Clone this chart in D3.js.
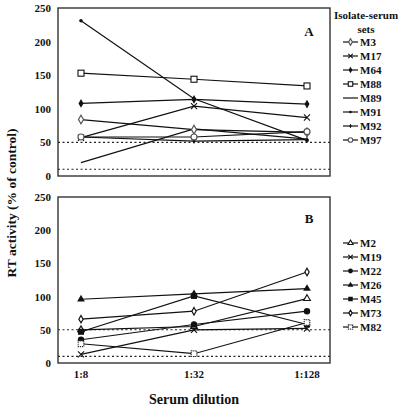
<!DOCTYPE html>
<html><head><meta charset="utf-8">
<script src="https://cdn.jsdelivr.net/npm/d3@7"></script>
<style>body{margin:0;background:#fff}text{font-family:"Liberation Serif","Times New Roman",serif;font-weight:bold;fill:#111}</style>
</head><body><svg id="c" width="400" height="409"></svg>
<script>
const dilutions = ["1:8", "1:32", "1:128"];
const yTicks = [0, 50, 100, 150, 200, 250];
const refLines = [50, 10];

const seriesA = ["M3", "M17", "M64", "M88", "M89", "M91", "M92", "M97"];
const markersA = ["diamondOpen", "cross", "diamondFilled", "squareOpen", "none", "dot", "plus", "circleOpen"];
const M3 = [84, 69, 65];
const M17 = [57, 104, 87];
const M64 = [108, 114, 107];
const M88 = [153, 144, 134];
const M89 = [20, 70, 55];
const M91 = [231, 115, 53];
const M92 = [58, 52, 54];
const M97 = [58, 58, 66];
const valuesA = [M3, M17, M64, M88, M89, M91, M92, M97];

const seriesB = ["M2", "M19", "M22", "M26", "M45", "M73", "M82"];
const markersB = ["triangleOpen", "cross", "circleFilled", "triangleFilled", "squareFilled", "diamondSmall", "squareDotted"];
const M2 = [50, 55, 97];
const M19 = [13, 50, 52];
const M22 = [35, 58, 78];
const M26 = [96, 104, 112];
const M45 = [47, 101, 58];
const M73 = [66, 78, 137];
const M82 = [29, 14, 61];
const valuesB = [M2, M19, M22, M26, M45, M73, M82];

const svg = d3.select("#c");
const x = d3.scalePoint().domain(dilutions).range([81, 307]);
const left = 58, right = 330;

function marker(g, type, cx, cy, s) {
  s = s || 1;
  const k = "#111";
  const sym = (t, a) => d3.symbol(t, a * s * s)();
  switch (type) {
    case "diamondOpen": g.append("path").attr("d", sym(d3.symbolDiamond, 22)).attr("transform", `translate(${cx},${cy})`).attr("fill", "#fff").attr("stroke", "#555").attr("stroke-width", 1.2); break;
    case "diamondSmall": g.append("path").attr("d", sym(d3.symbolDiamond, 16)).attr("transform", `translate(${cx},${cy})`).attr("fill", "#fff").attr("stroke", k).attr("stroke-width", 1.2); break;
    case "diamondFilled": g.append("path").attr("d", sym(d3.symbolDiamond, 22)).attr("transform", `translate(${cx},${cy})`).attr("fill", k); break;
    case "cross": g.append("path").attr("d", sym(d3.symbolX, 26)).attr("transform", `translate(${cx},${cy})`).attr("fill", "none").attr("stroke", k).attr("stroke-width", 1.1); break;
    case "squareOpen": g.append("rect").attr("x", cx - 3 * s).attr("y", cy - 3 * s).attr("width", 6 * s).attr("height", 6 * s).attr("fill", "#fff").attr("stroke", k).attr("stroke-width", 1.1); break;
    case "squareFilled": g.append("rect").attr("x", cx - 3 * s).attr("y", cy - 3 * s).attr("width", 6 * s).attr("height", 6 * s).attr("fill", k); break;
    case "squareDotted": g.append("rect").attr("x", cx - 2.8 * s).attr("y", cy - 2.8 * s).attr("width", 5.6 * s).attr("height", 5.6 * s).attr("fill", "#fff").attr("stroke", "#333").attr("stroke-width", 1.2).attr("stroke-dasharray", "1.2,0.8"); break;
    case "circleOpen": g.append("circle").attr("cx", cx).attr("cy", cy).attr("r", 3 * s).attr("fill", "#fff").attr("stroke", "#555").attr("stroke-width", 1.2); break;
    case "circleFilled": g.append("circle").attr("cx", cx).attr("cy", cy).attr("r", 3.2 * s).attr("fill", k); break;
    case "triangleOpen": g.append("path").attr("d", sym(d3.symbolTriangle, 20)).attr("transform", `translate(${cx},${cy})`).attr("fill", "#fff").attr("stroke", k).attr("stroke-width", 1.1); break;
    case "triangleFilled": g.append("path").attr("d", sym(d3.symbolTriangle, 26)).attr("transform", `translate(${cx},${cy})`).attr("fill", k); break;
    case "dot": g.append("circle").attr("cx", cx).attr("cy", cy).attr("r", 1.8 * s).attr("fill", k); break;
    case "plus": g.append("circle").attr("cx", cx).attr("cy", cy).attr("r", 1.5 * s).attr("fill", k);
      g.append("line").attr("x1", cx).attr("x2", cx).attr("y1", cy - 2.5 * s).attr("y2", cy + 2.5 * s).attr("stroke", k).attr("stroke-width", 1); break;
    default: break;
  }
}

function panel(top, bottom, names, markers, values, letter, letterY, legendTop, legendTitle) {
  const y = d3.scaleLinear().domain([0, 250]).range([bottom, top]);
  const g = svg.append("g");
  refLines.forEach(v => {
    g.append("line").attr("x1", left).attr("x2", right).attr("y1", y(v)).attr("y2", y(v))
      .attr("stroke", "#222").attr("stroke-width", 1.1).attr("stroke-dasharray", "2,2.5");
  });
  const ax = g.append("g").attr("transform", `translate(${left},0)`)
    .call(d3.axisLeft(y).tickValues(yTicks).tickSize(0).tickPadding(7));
  ax.select(".domain").remove();
  ax.selectAll("text").style("font-size", "11px").style("font-family", '"Liberation Serif",serif').style("font-weight", "bold").attr("fill", "#111");
  const line = d3.line().x((d, i) => x(dilutions[i])).y(d => y(d));
  values.forEach(vals => {
    g.append("path").attr("d", line(vals)).attr("fill", "none").attr("stroke", "#111").attr("stroke-width", 1.2);
  });
  values.forEach((vals, si) => {
    vals.forEach((v, i) => marker(g, markers[si], x(dilutions[i]), y(v)));
  });
  g.append("rect").attr("x", left).attr("y", top).attr("width", right - left).attr("height", bottom - top)
    .attr("fill", "none").attr("stroke", "#333").attr("stroke-width", 1.4);
  g.append("text").attr("x", 309).attr("y", letterY).attr("text-anchor", "middle").style("font-size", "13px").text(letter);
  const lg = svg.append("g");
  if (legendTitle) {
    lg.append("text").attr("x", 366).attr("y", 19).attr("text-anchor", "middle").style("font-size", "11px").text("Isolate-serum");
    lg.append("text").attr("x", 366).attr("y", 33).attr("text-anchor", "middle").style("font-size", "11px").text("sets");
  }
  names.forEach((n, i) => {
    const yy = legendTop + i * 14;
    lg.append("line").attr("x1", 343).attr("x2", 358).attr("y1", yy).attr("y2", yy).attr("stroke", "#111").attr("stroke-width", 1.2);
    marker(lg, markers[i], 350.5, yy, 0.75);
    lg.append("text").attr("x", 360).attr("y", yy + 4).style("font-size", "11px").text(n);
  });
}

panel(8, 176, seriesA, markersA, valuesA, "A", 36, 42, true);
panel(197, 363, seriesB, markersB, valuesB, "B", 223, 243, false);

dilutions.forEach(d => {
  svg.append("text").attr("x", x(d)).attr("y", 378).attr("text-anchor", "middle").style("font-size", "11px").text(d);
});
svg.append("text").attr("x", 194).attr("y", 404).attr("text-anchor", "middle").style("font-size", "14px").text("Serum dilution");
svg.append("text").attr("transform", "translate(16,203) rotate(-90)").attr("text-anchor", "middle").style("font-size", "13.5px").text("RT activity (% of control)");
</script></body></html>
